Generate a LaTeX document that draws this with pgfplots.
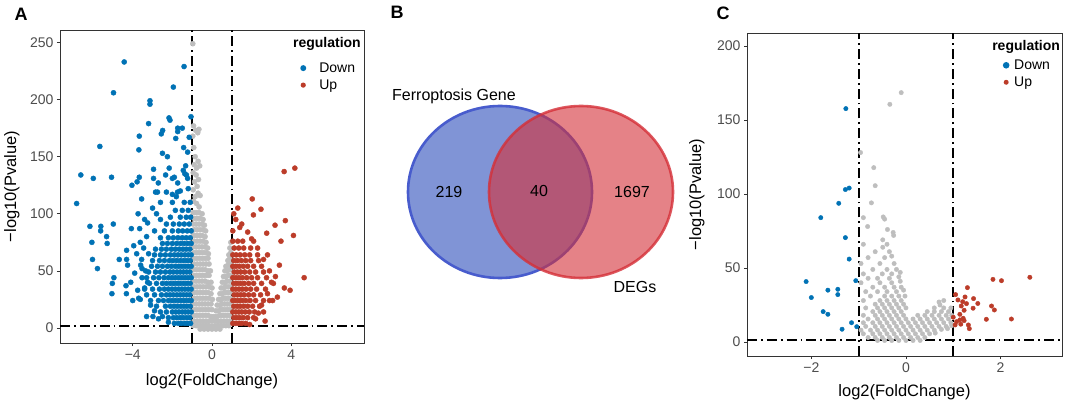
\documentclass[border=0pt]{standalone}
\usepackage{pgfplots}
\pgfplotsset{compat=1.18}
\usepackage{fontspec}
\setmainfont{Liberation Sans}
\definecolor{downc}{HTML}{0072B5}
\definecolor{upc}{HTML}{BC3C29}
\definecolor{nsc}{HTML}{BEBEBE}
\definecolor{vennb}{RGB}{128,148,214}
\definecolor{vennbe}{RGB}{72,92,205}
\definecolor{vennr}{RGB}{213,47,55}
\definecolor{tickc}{HTML}{4D4D4D}
\pgfplotsset{
  volc/.style={
    scale only axis, anchor=south west,
    axis line style={draw=black!80, line width=0.8pt},
    tick align=outside, xtick pos=bottom, ytick pos=left,
    major tick length=3pt, tick style={draw=black!80, line width=0.7pt},
    ticklabel style={font=\fontsize{14}{14}\selectfont, text=tickc},
    label style={font=\fontsize{16.5}{16.5}\selectfont},
    /pgf/number format/assume math mode=true,
    legend style={draw=none, fill=none, font=\fontsize{14}{14}\selectfont, anchor=north west, inner sep=0pt, row sep=0pt,
      nodes={inner sep=1.5pt, text height=11pt, text depth=3pt}},
    legend cell align=left,
  },
  vline/.style={black, line width=1.9pt, dash pattern=on 10pt off 4pt on 1.8pt off 4pt, forget plot},
  ptA/.style={only marks, mark=*, mark size=2.55pt, forget plot},
  ptC/.style={only marks, mark=*, mark size=2.2pt, forget plot},
}
\begin{document}
\begin{tikzpicture}
\fill[white] (0pt,0pt) rectangle (1065pt,402pt);
\path[use as bounding box] (0pt,0pt) rectangle (1065pt,402pt);
% ---------------- Panel A ----------------
\begin{axis}[volc, at={(60pt,59pt)}, anchor=south west, width=304pt, height=313pt,
  xmin=-7.67, xmax=7.67, ymin=-13.2, ymax=261,
  xtick={-4,0,4}, xticklabels={−4,0,4}, ytick={0,50,100,150,200,250},
  xlabel={log2(FoldChange)}, ylabel={−log10(Pvalue)},
  x label style={at={(axis description cs:0.5,-0.121)}, anchor=center},
  y label style={at={(axis description cs:-0.158,0.5)}, anchor=center},
  legend style={at={(axis description cs:0.788,0.906)}}]
% gray (not significant)
\addplot[ptA, nsc] coordinates {
(-0.97,249)
(-0.93,177)(-0.82,173)(-0.72,171)(-0.66,174)(-0.97,168)
(-0.92,158)(-0.85,150)(-0.7,146)(-0.62,142)(-0.78,140)(-0.9,143)(-0.95,136)(-0.8,134)(-0.68,130)(-0.88,128)(-0.75,124)(-0.95,121)(-0.7,118)(-0.85,115)(-0.6,116)(-0.93,111)(-0.78,109)(-0.65,106)
(-0.95,101)(-0.8,101)(-0.65,101)(-0.5,100)
(-0.9,96)(-0.75,96)(-0.6,96)(-0.45,95)
(-0.95,91)(-0.8,91)(-0.65,91)(-0.5,91)(-0.38,90)
(-0.9,86)(-0.75,86)(-0.6,86)(-0.45,86)(-0.32,85)
(-0.95,81)(-0.8,81)(-0.65,81)(-0.5,81)(-0.35,80)
(-0.9,76)(-0.75,76)(-0.6,76)(-0.45,76)(-0.3,75)(0.95,75)
(-0.95,71)(-0.8,71)(-0.65,71)(-0.5,71)(-0.35,71)(-0.22,70)(0.9,70)
(-0.9,66)(-0.75,66)(-0.6,66)(-0.45,66)(-0.3,66)(-0.18,65)(0.95,66)(0.85,64)
(-0.95,61)(-0.8,61)(-0.65,61)(-0.5,61)(-0.35,61)(-0.2,61)(0.9,61)(0.8,59)
(-0.9,56)(-0.75,56)(-0.6,56)(-0.45,56)(-0.3,56)(-0.15,56)(0.95,56)(0.82,55)(0.7,54)
(-0.95,51)(-0.8,51)(-0.65,51)(-0.5,51)(-0.35,51)(-0.2,50)(-0.08,50)(0.9,51)(0.77,50)(0.65,50)
(-0.9,46)(-0.75,46)(-0.6,46)(-0.45,46)(-0.3,46)(-0.15,46)(0.95,46)(0.82,46)(0.7,45)(0.58,45)
(-0.95,41)(-0.8,41)(-0.65,41)(-0.5,41)(-0.35,41)(-0.2,40)(-0.05,40)(0.9,41)(0.77,41)(0.65,40)(0.52,40)
(-0.9,36)(-0.75,36)(-0.6,36)(-0.45,36)(-0.3,36)(-0.15,36)(0,35)(0.95,36)(0.82,36)(0.7,36)(0.58,35)(0.46,35)
(-0.95,31)(-0.8,31)(-0.65,31)(-0.5,31)(-0.35,31)(-0.2,31)(-0.05,30)(0.9,31)(0.77,31)(0.64,31)(0.52,30)(0.4,30)
(-0.9,26)(-0.75,26)(-0.6,26)(-0.45,26)(-0.3,26)(-0.15,26)(0.02,25)(0.95,26)(0.82,26)(0.7,26)(0.57,26)(0.45,25)(0.33,25)
(-0.95,21)(-0.8,21)(-0.65,21)(-0.5,21)(-0.35,21)(-0.2,21)(-0.05,21)(0.9,21)(0.77,21)(0.64,21)(0.51,21)(0.38,20)(0.26,20)
(-0.9,16)(-0.75,16)(-0.6,16)(-0.45,16)(-0.3,16)(-0.15,16)(0,16)(0.95,16)(0.82,16)(0.7,16)(0.57,16)(0.45,16)(0.33,15)(0.2,15)
(-0.95,11)(-0.8,11)(-0.65,11)(-0.5,11)(-0.35,11)(-0.2,11)(-0.05,10)(0.1,10)(0.9,11)(0.77,11)(0.64,11)(0.51,11)(0.38,11)(0.25,10)
(-0.9,6)(-0.75,6)(-0.6,6)(-0.45,6)(-0.3,6)(-0.15,6)(0,6)(0.15,6)(0.3,6)(0.45,6)(0.6,6)(0.75,6)(0.9,6)
(-0.95,2)(-0.8,2)(-0.65,2)(-0.5,2)(-0.35,2)(-0.2,2)(-0.05,1.5)(0.1,1.5)(0.25,2)(0.4,2)(0.55,2)(0.7,2)(0.85,2)
(-0.6,-1)(-0.4,-1)(-0.2,-1)(0,-1)(0.2,-1)(0.4,-1)
};
% blue (down)
\addplot[ptA, downc] coordinates {
(-4.43,233)(-1.41,229)(-4.97,206)(-1.95,211)(-3.13,199)(-3.13,196)(-2.17,184)(-2.12,182)(-1.06,185)(-3.2,179)(-1.73,175)(-1.5,175)(-1.73,172)(-2.49,173)(-2.56,170)(-3.67,168)(-1.83,166)(-1.15,167)(-5.66,159)(-3.69,156)(-1.43,158)(-2.5,153)(-2.25,150)(-1.23,154)(-1.33,142)(-1.45,138)(-1.37,135)(-2.95,139)(-2.16,140)(-2.34,134)(-2.0,131)(-1.9,132)(-6.62,134)(-5.99,131)(-5.07,132)(-3.67,132)(-3.78,128)(-2.95,131)(-4.04,125)(-2.71,127)(-1.73,127)(-1.29,134)(-1.23,131)(-3.55,113)(-2.85,119)(-2.75,119)(-2.3,119)(-1.74,119)(-1.8,115)(-1.6,120)(-1.2,122)(-2.0,117)
(-6.83,109)(-6.16,89)(-5.61,89)(-5.62,85)(-5.32,80)(-6.06,75)(-5.29,74)(-4.98,91)(-6.03,60)(-5.78,52)(-4.95,44)(-5.03,39)(-5.05,30)(-4.68,60)(-4.31,68)(-4.31,60)(-4.26,55)(-4.34,37)(-4.32,30)(-4.07,87)(-3.65,87)(-3.62,75)(-3.73,100)(-4.0,24)(-3.7,26)(-3.62,25)(-2.98,10)(-3.55,60)(-3.53,52)(-3.53,44)
(-3.4,95)(-3.3,80)(-3.45,70)(-3.2,65)(-3.35,50)(-3.25,40)(-3.4,35)(-3.1,20)(-2.9,15)(-3.0,105)(-3.25,92)(-2.8,100)(-2.6,95)(-3.6,55)(-3.9,48)(-3.8,65)(-3.95,72)(-4.1,40)(-3.75,33)(-2.5,10)(-2.7,8)(-2.2,5)(-3.3,10)
(-1.08,4)(-1.22,4)(-1.37,4)(-1.55,4)(-1.7,4)(-1.9,4)
(-1.12,9)(-1.28,9)(-1.45,9)(-1.6,9)(-1.78,9)(-1.95,9)(-2.2,9)
(-1.05,14)(-1.2,14)(-1.35,14)(-1.5,14)(-1.67,14)(-1.83,14)(-2.0,14)(-2.3,14)(-2.6,14)
(-1.1,19)(-1.27,19)(-1.42,19)(-1.58,19)(-1.75,19)(-1.92,19)(-2.1,19)(-2.35,19)(-2.8,19)
(-1.05,24)(-1.2,24)(-1.36,24)(-1.52,24)(-1.68,24)(-1.85,24)(-2.02,24)(-2.2,24)(-2.45,24)(-2.7,24)(-3.1,24)
(-1.12,29)(-1.28,29)(-1.44,29)(-1.6,29)(-1.77,29)(-1.95,29)(-2.12,29)(-2.3,29)(-2.55,29)(-2.9,29)(-3.3,29)
(-1.05,34)(-1.2,34)(-1.36,34)(-1.52,34)(-1.68,34)(-1.85,34)(-2.02,34)(-2.2,34)(-2.4,34)(-2.65,34)(-3.0,34)(-3.4,34)
(-1.1,39)(-1.27,39)(-1.43,39)(-1.6,39)(-1.76,39)(-1.93,39)(-2.1,39)(-2.3,39)(-2.5,39)(-2.8,39)(-3.15,39)
(-1.05,44)(-1.2,44)(-1.36,44)(-1.52,44)(-1.68,44)(-1.85,44)(-2.02,44)(-2.2,44)(-2.42,44)(-2.68,44)(-2.95,44)(-3.3,44)
(-1.12,49)(-1.28,49)(-1.44,49)(-1.6,49)(-1.77,49)(-1.95,49)(-2.12,49)(-2.35,49)(-2.6,49)(-2.85,49)(-3.2,49)
(-1.05,54)(-1.2,54)(-1.36,54)(-1.52,54)(-1.68,54)(-1.85,54)(-2.05,54)(-2.25,54)(-2.5,54)(-2.75,54)(-3.05,54)
(-1.1,59)(-1.27,59)(-1.43,59)(-1.6,59)(-1.78,59)(-1.97,59)(-2.15,59)(-2.4,59)(-2.65,59)(-3.0,59)
(-1.05,64)(-1.2,64)(-1.37,64)(-1.55,64)(-1.72,64)(-1.9,64)(-2.1,64)(-2.35,64)(-2.6,64)(-2.9,64)
(-1.12,69)(-1.3,69)(-1.47,69)(-1.65,69)(-1.85,69)(-2.05,69)(-2.3,69)(-2.55,69)(-2.85,69)
(-1.05,74)(-1.22,74)(-1.4,74)(-1.58,74)(-1.78,74)(-2.0,74)(-2.25,74)(-2.5,74)
(-1.1,79)(-1.3,79)(-1.5,79)(-1.72,79)(-1.95,79)(-2.2,79)(-2.6,79)
(-1.05,85)(-1.25,85)(-1.48,85)(-1.7,85)(-2.0,85)(-2.4,85)(-2.9,85)
(-1.15,91)(-1.4,91)(-1.65,91)(-1.95,91)(-2.3,91)
(-1.08,97)(-1.3,97)(-1.6,97)(-2.1,97)
(-1.2,103)(-1.5,103)(-1.85,103)
(-1.1,110)(-1.4,110)(-2.0,110)(-2.6,110)
};
% red (up)
\addplot[ptA, upc] coordinates {
(3.64,137)(4.18,140)(2.03,113)(1.5,91)(1.8,84)(2.09,99)(2.47,104)(2.76,83)(3.18,90)(3.7,94)(4.11,81)(3.48,76)(4.65,44)(3.65,35)(3.94,33)(3.06,24)(3.3,27)(2.68,6)(2.34,13)
(1.2,95)(1.4,88)(1.1,100)(2.3,70)(2.6,60)(2.9,50)(3.0,40)(2.8,30)(3.2,45)(2.5,20)(2.2,8)(1.9,3)(3.4,55)(2.0,78)(1.3,105)(1.05,85)
(1.05,4)(1.2,4)(1.35,4)(1.5,4)(1.7,4)
(1.1,9)(1.25,9)(1.4,9)(1.58,9)(1.8,9)(2.1,9)
(1.05,14)(1.2,14)(1.35,14)(1.5,14)(1.68,14)(1.88,14)(2.15,14)(2.6,14)
(1.1,19)(1.27,19)(1.42,19)(1.6,19)(1.8,19)(2.05,19)(2.4,19)
(1.05,24)(1.2,24)(1.36,24)(1.52,24)(1.7,24)(1.92,24)(2.2,24)(2.6,24)(2.9,24)
(1.12,29)(1.28,29)(1.45,29)(1.62,29)(1.85,29)(2.1,29)(2.45,29)
(1.05,34)(1.2,34)(1.36,34)(1.53,34)(1.72,34)(1.95,34)(2.25,34)(2.7,34)
(1.1,39)(1.27,39)(1.44,39)(1.62,39)(1.85,39)(2.1,39)(2.5,39)(3.1,39)
(1.05,44)(1.2,44)(1.36,44)(1.53,44)(1.75,44)(2.0,44)(2.3,44)(2.75,44)
(1.12,49)(1.28,49)(1.45,49)(1.65,49)(1.9,49)(2.2,49)(2.6,49)
(1.05,54)(1.2,54)(1.38,54)(1.58,54)(1.8,54)(2.1,54)(2.5,54)
(1.1,59)(1.28,59)(1.48,59)(1.7,59)(1.95,59)(2.35,59)
(1.05,64)(1.22,64)(1.42,64)(1.65,64)(1.9,64)(2.3,64)(2.8,64)
(1.12,70)(1.35,70)(1.6,70)(1.95,70)
(1.05,76)(1.3,76)(1.55,76)(2.1,76)
};
\addplot[vline] coordinates {(-1,-13.2) (-1,261)};
\addplot[vline] coordinates {(1,-13.2) (1,261)};
\addplot[vline] coordinates {(-7.67,1.3) (7.67,1.3)};
\addlegendimage{legend image code/.code={\fill[downc, draw=none] (0pt,0pt) circle (3pt); \path[draw=none, fill=none] (-3.5pt,0pt) rectangle (14.5pt,0.1pt);}}
\addlegendentry{Down}
\addlegendimage{legend image code/.code={\fill[upc, draw=none] (0pt,0pt) circle (2.6pt); \path[draw=none, fill=none] (-3.5pt,0pt) rectangle (14.5pt,0.1pt);}}
\addlegendentry{Up}
\node[anchor=west, inner sep=0pt, font=\bfseries\fontsize{14}{14}\selectfont] at (axis description cs:0.766,0.955) {regulation};
\end{axis}
% ---------------- Panel B (Venn) ----------------
\begin{axis}[at={(360pt,0pt)}, anchor=south west, scale only axis, width=330pt, height=402pt,
  xmin=0, xmax=330, ymin=0, ymax=402, hide axis, clip=false]
\fill[vennb] (axis cs:140,210) ellipse [x radius=92, y radius=86];
\draw[vennbe, line width=2.6pt] (axis cs:140,210) ellipse [x radius=92, y radius=86];
\fill[vennr, fill opacity=0.6] (axis cs:221,210) ellipse [x radius=92, y radius=86];
\draw[vennr, draw opacity=0.8, line width=2.6pt] (axis cs:221,210) ellipse [x radius=92, y radius=86];
\node[font=\fontsize{16}{16}\selectfont] at (axis cs:94,306) {Ferroptosis Gene};
\node[font=\fontsize{16}{16}\selectfont] at (axis cs:89,210) {219};
\node[font=\fontsize{16}{16}\selectfont] at (axis cs:179,211) {40};
\node[font=\fontsize{16}{16}\selectfont] at (axis cs:272,210) {1697};
\node[font=\fontsize{16}{16}\selectfont] at (axis cs:275,115) {DEGs};
\end{axis}
% ---------------- Panel C ----------------
\begin{axis}[volc, at={(747pt,46pt)}, anchor=south west, width=315pt, height=323pt,
  xmin=-3.36, xmax=3.30, ymin=-9.5, ymax=208.8,
  xtick={-2,0,2}, xticklabels={−2,0,2}, ytick={0,50,100,150,200},
  xlabel={log2(FoldChange)}, ylabel={−log10(Pvalue)},
  x label style={at={(axis description cs:0.5,-0.111)}, anchor=center},
  y label style={at={(axis description cs:-0.159,0.5)}, anchor=center},
  legend style={at={(axis description cs:0.811,0.927)}}]
\addplot[ptC, nsc] coordinates {
(-0.6,1)(-0.45,1)(-0.3,1)(-0.15,1)(0,1)(0.15,1)(0.3,1)
(-0.8,3)(-0.65,3)(-0.5,3)(-0.35,3)(-0.2,3)(-0.05,3)(0.1,3)(0.25,3)(0.4,3)
(-0.9,5.5)(-0.7,5.5)(-0.55,5.5)(-0.4,5.5)(-0.25,5.5)(-0.1,5.5)(0.05,5.5)(0.2,5.5)(0.35,5.5)(0.5,5.5)(0.62,6)
(-0.95,8)(-0.75,8)(-0.6,8)(-0.45,8)(-0.3,8)(-0.15,8)(0,8)(0.15,8)(0.3,8)(0.45,8)(0.6,8)(0.75,8.5)(0.88,9)
(-0.85,10.5)(-0.65,10.5)(-0.5,10.5)(-0.35,10.5)(-0.2,10.5)(-0.05,10.5)(0.1,10.5)(0.25,10.5)(0.4,10.5)(0.55,10.5)(0.7,10.5)(0.85,10.5)(0.97,11)
(-0.9,13)(-0.7,13)(-0.55,13)(-0.4,13)(-0.25,13)(-0.1,13)(0.05,13)(0.2,13)(0.35,13)(0.5,13)(0.65,13)(0.8,13)(0.95,13)
(-0.8,15.5)(-0.6,15.5)(-0.45,15.5)(-0.3,15.5)(-0.15,15.5)(0,15.5)(0.15,15.5)(0.3,15.5)(0.45,15.5)(0.6,15.5)(0.75,15.5)(0.9,15.5)
(-0.9,18)(-0.65,18)(-0.5,18)(-0.35,18)(-0.2,18)(-0.05,18)(0.25,18)(0.4,18)(0.55,18)(0.7,18)(0.85,18)(0.97,18)
(-0.7,20.5)(-0.55,20.5)(-0.4,20.5)(-0.25,20.5)(-0.1,20.5)(0.45,20.5)(0.6,20.5)(0.75,20.5)(0.9,20.5)
(-0.85,23)(-0.6,23)(-0.45,23)(-0.3,23)(-0.15,23)(0,23)(0.6,23)(0.8,23)(0.95,23)
(-0.65,25.5)(-0.5,25.5)(-0.35,25.5)(-0.2,25.5)(-0.05,25.5)(0.72,25)
(-0.9,28)(-0.55,28)(-0.4,28)(-0.25,28)(-0.1,28)(0.7,27)(0.8,28)
(-0.75,31)(-0.45,31)(-0.3,31)(-0.15,31)(-0.02,31)
(-0.85,34)(-0.6,34)(-0.4,34)(-0.2,34)(-0.05,35)
(-0.7,37)(-0.45,37)(-0.25,37)(-0.1,37)
(-0.95,40)(-0.55,40)(-0.3,40)(-0.12,41)
(-0.8,43)(-0.6,43)(-0.35,43)(-0.15,44)
(-0.9,46)(-0.5,46)(-0.3,46)(-0.12,47)
(-0.7,49)(-0.4,49)(-0.2,49)
(-0.95,53)(-0.55,53)(-0.25,53)
(-0.8,57)(-0.45,57)(-0.3,58)
(-0.65,61)(-0.35,61)
(-0.9,66)(-0.4,66)
(-0.34,160.6)(-0.1,168.5)(-0.96,128)(-0.68,117.8)(-0.65,105.6)(-0.73,94)(-0.9,84)(-0.48,84.5)(-0.45,83)(-0.81,78)(-0.39,76)(-0.26,72)(-0.27,74)(-0.49,69)(-0.49,64)
};
\addplot[ptC, downc] coordinates {
(-1.27,157.7)(-1.28,103)(-1.2,104)(-1.42,93.7)(-1.8,84)(-1.28,70.5)(-1.2,56)(-2.11,40.8)(-1.06,41.4)(-2.0,30)(-1.65,35)(-1.44,35.6)(-1.44,32)(-1.75,20.5)(-1.65,18.7)(-1.15,13)(-1.35,8.6)(-1.04,10.3)
};
\addplot[ptC, upc] coordinates {
(2.62,43.7)(1.84,42.3)(2.02,41.4)(1.3,36.7)(1.05,32)(1.25,30.4)(1.43,29.3)(1.52,26)(1.42,22.8)(1.1,28.4)(1.2,27.2)(1.17,24.3)(1.28,25.9)(1.23,21.4)(1.14,18.7)(1.81,24.3)(1.87,21.6)(1.7,15.3)(2.23,15.5)(1.0,16.7)(1.07,13.7)(1.04,11.5)(1.14,14.9)(1.23,14.4)(1.32,11.5)(1.34,9)(1.21,16)(1.16,12)
};
\addplot[vline] coordinates {(-1,-9.5) (-1,208.8)};
\addplot[vline] coordinates {(1,-9.5) (1,208.8)};
\addplot[vline] coordinates {(-3.36,1.3) (3.30,1.3)};
\addlegendimage{legend image code/.code={\fill[downc, draw=none] (0pt,0pt) circle (3.3pt); \path[draw=none, fill=none] (-3.5pt,0pt) rectangle (6.5pt,0.1pt);}}
\addlegendentry{Down}
\addlegendimage{legend image code/.code={\fill[upc, draw=none] (0pt,0pt) circle (2.5pt); \path[draw=none, fill=none] (-3.5pt,0pt) rectangle (6.5pt,0.1pt);}}
\addlegendentry{Up}
\node[anchor=west, inner sep=0pt, font=\bfseries\fontsize{14}{14}\selectfont] at (axis description cs:0.778,0.957) {regulation};
\end{axis}
% panel letters
\node[font=\bfseries\fontsize{18}{18}\selectfont] at (21pt,388pt) {A};
\node[font=\bfseries\fontsize{18}{18}\selectfont] at (397pt,390pt) {B};
\node[font=\bfseries\fontsize{18}{18}\selectfont] at (723pt,389pt) {C};
\end{tikzpicture}
\end{document}
